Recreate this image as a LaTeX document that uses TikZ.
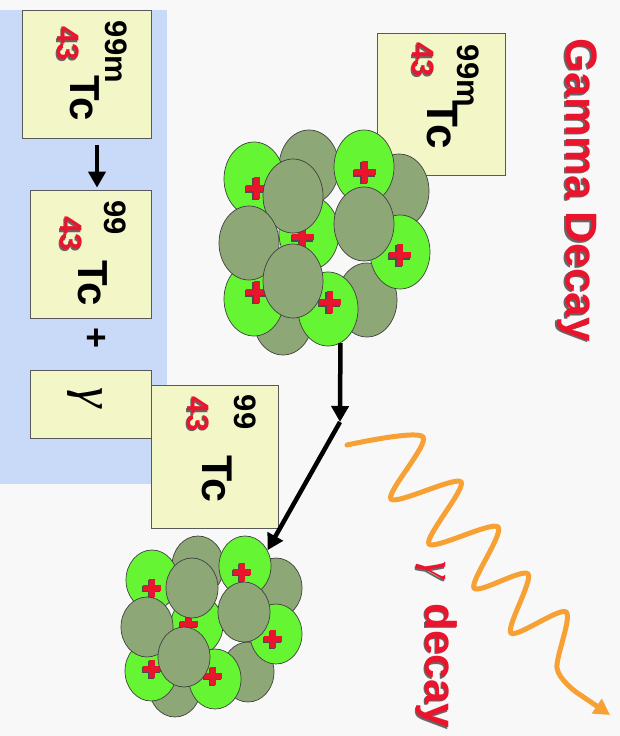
\documentclass[tikz,border=0pt]{standalone}
\usepackage{fontspec}
\setmainfont{Liberation Sans}
\newfontfamily\greekfont{Liberation Serif}
\usetikzlibrary{positioning, arrows.meta, shapes.geometric}

\definecolor{pagebg}{RGB}{248,248,248}
\definecolor{panelblue}{RGB}{201,217,248}
\definecolor{labelyellow}{RGB}{243,247,200}
\definecolor{protongreen}{RGB}{102,245,50}
\definecolor{neutrongreen}{RGB}{141,167,118}
\definecolor{decayred}{RGB}{234,20,44}
\definecolor{photonorange}{RGB}{247,161,52}

\newcommand{\pxfont}[1]{\fontsize{#1}{#1}\selectfont\bfseries}

\tikzset{
    plusmark/.pic={
        \fill[black!70] (-12.3,-1.9) rectangle (9.7,4.9);
        \fill[black!70] (-4.9,-9.7) rectangle (1.9,12.3);
        \fill[decayred] (-11,-3.2) rectangle (11,3.2);
        \fill[decayred] (-3.2,-11) rectangle (3.2,11);
    }
}

\begin{document}
\begin{tikzpicture}[
        x=1pt, y=-1pt,
        labelbox/.style={rectangle, draw=black!65, fill=labelyellow, line width=0.8pt, inner sep=0pt},
        massno/.style={rotate=-90, inner sep=0pt, font=\pxfont{31}},
        atomicno/.style={massno, text=decayred},
        element/.style={rotate=-90, inner sep=0pt, font=\pxfont{42}},
        heading/.style={rotate=-90, inner sep=0pt, font=\pxfont{44}, text=decayred},
        textshadow/.style={text=black!60},
        proton/.style={ellipse, draw=black!75, line width=0.7pt, fill=protongreen, inner sep=0pt, minimum width=60, minimum height=74},
        neutron/.style={proton, fill=neutrongreen},
        daughtersize/.style={minimum width=52, minimum height=60},
        decayarrow/.style={-{Triangle[length=16pt, width=17pt]}, line width=4.5pt},
        photon/.style={photonorange, line width=5pt, line cap=round, -{Triangle[length=16pt, width=17pt]}},
    ]
    % page and the reaction panel on the left
    \path[use as bounding box, fill=pagebg] (0,0) rectangle (620,736);
    \fill[panelblue] (0,10) rectangle (167,484);

    % reaction: 99m-Tc -> 99-Tc + gamma
    \node[labelbox, minimum width=129, minimum height=128] (parent) at (86.5,74) {};
    \node[labelbox, minimum width=121, minimum height=128] (daughter) at (90.5,254) {};
    \node[labelbox, minimum width=121, minimum height=68] (photonbox) at (90.5,404) {};
    \node[massno] (parent a) at (116,52) {99m};
    \node[atomicno, textshadow] (parent z shadow) at (66.7,45.3) {43};
    \node[atomicno] (parent z) at (68,44) {43};
    \node[element] (parent sym) at (85,98) {Tc};
    \node[massno] (daughter a) at (115,218) {99};
    \node[atomicno, textshadow] (daughter z shadow) at (69.7,235.3) {43};
    \node[atomicno] (daughter z) at (71,234) {43};
    \node[element] (daughter sym) at (93,283) {Tc};
    \node[massno, font=\pxfont{36}] (plus) at (95,338) {+};
    \node[rotate=-90, inner sep=0pt, font=\greekfont\itshape\fontsize{52}{52}\selectfont] (gamma) at (85,398) {γ};
    \draw[decayarrow] ([shift={(10.5,7)}]parent.south) -- ([shift={(6.5,-2)}]daughter.north);

    % excited nucleus
    \node[labelbox, minimum width=128, minimum height=142] (start box) at (441,104) {};
    \node[massno] (start a) at (468,76) {99m};
    \node[atomicno, textshadow] (start z shadow) at (421.7,61.3) {43};
    \node[atomicno] (start z) at (423,60) {43};
    \node[element, font=\pxfont{44}] (start sym) at (442,125) {Tc};

    \foreach \n/\x/\y in {a1/309/167, a2/399/191, a3/367/300, a4/283/318}
        \node[neutron] (\n) at (\x,\y) {};
    \foreach \n/\x/\y/\px/\py in {b1/254/179/257/188, b2/364/167/365/172, b3/309/233/303/237,
                                  b4/400/252/400/255, b5/254/299/257/292, b6/328/309/330/302}
    {
        \node[proton] (\n) at (\x,\y) {};
        \pic at (\px,\py) {plusmark};
    }
    \foreach \n/\x/\y in {c1/293/196, c2/249/243, c3/364/224, c4/293/281}
        \node[neutron] (\n) at (\x,\y) {};

    % relaxed nucleus
    \node[labelbox, minimum width=127, minimum height=143] (end box) at (214.5,456.5) {};
    \node[massno] (end a) at (245,412) {99};
    \node[atomicno, textshadow] (end z shadow) at (196.7,415.3) {43};
    \node[atomicno] (end z) at (198,414) {43};
    \node[element, font=\pxfont{43}] (end sym) at (217,479) {Tc};

    \foreach \n/\x/\y in {d1/198/566, d2/276/588, d3/248/672, d4/175/687}
        \node[neutron, daughtersize] (\n) at (\x,\y) {};
    \foreach \n/\x/\y/\px/\py in {e1/152/580/152/588, e2/245/566/242/572, e3/197/625/189/624,
                                  e4/276/634/273/639, e5/151/671/152/669, e6/215/679/213/676}
    {
        \node[proton, daughtersize] (\n) at (\x,\y) {};
        \pic[scale=0.82] at (\px,\py) {plusmark};
    }
    \foreach \n/\x/\y in {f1/192/588, f2/147/627, f3/244/612, f4/184/657}
        \node[neutron, daughtersize] (\n) at (\x,\y) {};

    % decay path
    \coordinate (kink) at (340,422);
    \draw[decayarrow] (b6.-70) -- (kink);
    \draw[decayarrow] (kink) -- (e2.35);

    % emitted photon
    \coordinate (gamma start) at (347,445);
    \coordinate (gamma end) at (610,715);
    \draw[photon] plot[smooth, tension=0.5] coordinates {(gamma start) (423,437) (391,499) (461,482)
        (429,544) (498,527) (474,588) (528,574) (511,633) (566,612) (557,668) (576,692)} -- (gamma end);

    % titles
    \node[heading, textshadow] (title shadow) at (575.5,191.5) {Gamma Decay};
    \node[heading] (title) at (577,190) {Gamma Decay};
    \node[heading, textshadow] (emission shadow) at (435.5,646.5) {{\greekfont\itshape\mdseries γ}\hspace{0.55em}decay};
    \node[heading] (emission) at (437,645) {{\greekfont\itshape\mdseries γ}\hspace{0.55em}decay};
\end{tikzpicture}
\end{document}
